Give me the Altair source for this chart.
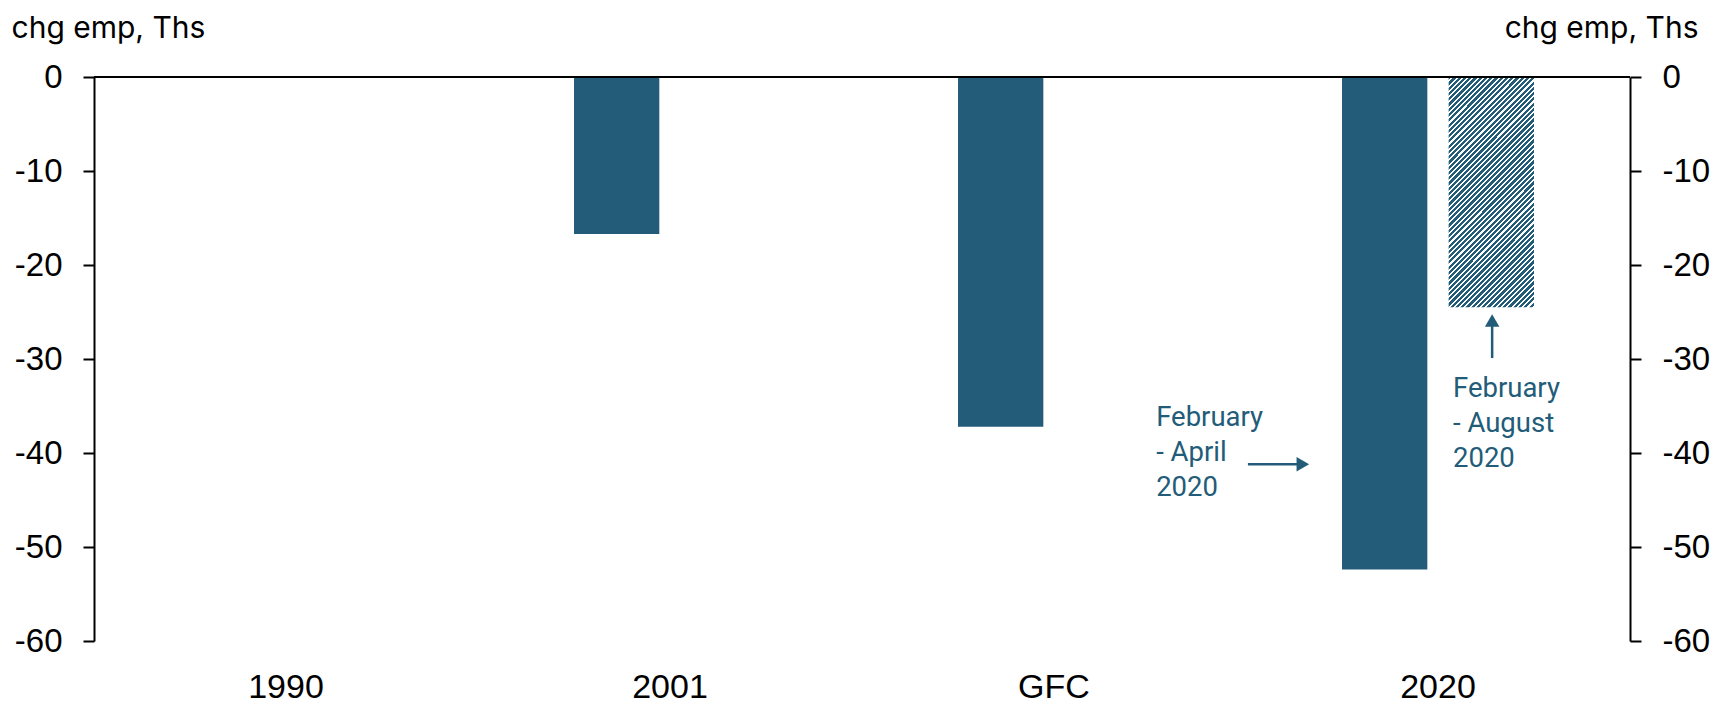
import altair as alt
import pandas as pd

# ---------------- data ----------------
categories = ["1990", "2001", "GFC", "2020"]
series = ["Trough", "Latest"]

bar_cats = ["2001", "GFC", "2020", "2020"]
bar_series = ["Trough", "Trough", "Trough", "Latest"]
bar_values = [-16.7, -37.2, -52.4, -24.5]

y_ticks = [0, -10, -20, -30, -40, -50, -60]

ann_texts = ["February\n- April\n2020", "February\n- August\n2020"]
ann_x = [2.766, 3.539]
ann_y = [-37.1, -34.0]

arrow_x = [3.005, 3.641]
arrow_x2 = [3.135, 3.641]
arrow_y = [-41.2, -29.9]
arrow_y2 = [-41.2, -26.3]

head_x = [3.148, 3.641]
head_y = [-41.2, -25.9]
head_shape = ["triangle-right", "triangle-up"]

TEAL = "#225C78"

# hatch fill built as a striped linear gradient ("////" at 45 degrees)
N = 60
frac = 0.6
stops = []
for k in range(N):
    a = round(k / N, 5)
    b = round((k + frac) / N, 5)
    c = round((k + 1) / N, 5)
    stops += [
        {"offset": a, "color": TEAL},
        {"offset": b, "color": TEAL},
        {"offset": b, "color": "#ffffff"},
        {"offset": c, "color": "#ffffff"},
    ]
hatch = {"gradient": "linear", "x1": 0, "y1": 0, "x2": 0.447, "y2": 1.205, "stops": stops}

bars_df = pd.DataFrame({"cat": bar_cats, "series": bar_series, "value": bar_values})
ann_df = pd.DataFrame({"x": ann_x, "y": ann_y, "t": ann_texts})
arrow_df = pd.DataFrame({"x": arrow_x, "x2": arrow_x2, "y": arrow_y, "y2": arrow_y2})
head_df = pd.DataFrame({"x": head_x, "y": head_y, "shape": head_shape})
zero_df = pd.DataFrame({"x": [0], "x2": [4], "y": [0]})

W, H = 1536, 564

yscale = alt.Scale(domain=[-60, 0], nice=False, zero=False)
xq = alt.Scale(domain=[0, 4], nice=False, zero=False)

axis_common = dict(
    values=y_ticks,
    labelExpr="'' + datum.value",
    labelFont="Liberation Sans",
    labelFontSize=33,
    labelColor="#000000",
    domainColor="#000000",
    domainWidth=2,
    tickColor="#000000",
    tickWidth=2,
    tickSize=11,
    labelPadding=21,
    grid=False,
    titleFont="Inter",
    titleFontSize=30,
    titleFontWeight="normal",
    titleColor="#000000",
    titleAngle=0,
    titleBaseline="alphabetic",
    titleY=-40,
)

left_axis = alt.Axis(orient="left", title="chg emp, Ths", titleAlign="left", titleX=-83, **axis_common)
right_axis = alt.Axis(orient="right", title="chg emp, Ths", titleAlign="right", titleX=68, **axis_common)

bars = alt.Chart(bars_df).mark_bar().encode(
    x=alt.X(
        "cat:N",
        scale=alt.Scale(domain=categories, paddingInner=0.5, paddingOuter=0.25),
        sort=categories,
        axis=alt.Axis(
            title=None,
            domain=False,
            ticks=False,
            tickSize=0,
            labelAngle=0,
            labelFont="Liberation Sans",
            labelFontSize=34,
            labelColor="#000000",
            labelBaseline="alphabetic",
            labelPadding=56,
        ),
    ),
    xOffset=alt.XOffset("series:N", scale=alt.Scale(domain=series, paddingInner=0.2, paddingOuter=0)),
    y=alt.Y("value:Q", scale=yscale, axis=left_axis),
    fill=alt.condition(alt.datum.series == "Latest", alt.value(hatch), alt.value(TEAL)),
)

zero_rule = alt.Chart(zero_df).mark_rule(color="#000000", strokeWidth=2).encode(
    x=alt.X("x:Q", scale=xq, axis=None),
    x2="x2:Q",
    y=alt.Y("y:Q", scale=yscale, axis=None),
)

arrows = alt.Chart(arrow_df).mark_rule(color=TEAL, strokeWidth=2.5).encode(
    x=alt.X("x:Q", scale=xq, axis=None),
    x2="x2:Q",
    y=alt.Y("y:Q", scale=yscale, axis=None),
    y2="y2:Q",
)

heads = alt.Chart(head_df).mark_point(filled=True, opacity=1, color=TEAL, size=210, strokeWidth=0).encode(
    x=alt.X("x:Q", scale=xq, axis=None),
    y=alt.Y("y:Q", scale=yscale, axis=None),
    shape=alt.Shape("shape:N", scale=None),
)

texts = alt.Chart(ann_df).mark_text(
    align="left", baseline="alphabetic", font="Roboto", fontSize=27.5, color=TEAL,
    lineBreak="\n", lineHeight=35,
).encode(
    x=alt.X("x:Q", scale=xq, axis=None),
    y=alt.Y("y:Q", scale=yscale, axis=right_axis),
    text="t:N",
)

chart = (
    alt.layer(bars, zero_rule, arrows, heads, texts)
    .resolve_scale(x="independent")
    .resolve_axis(y="independent", x="independent")
    .properties(
        width=W,
        height=H,
        autosize=alt.AutoSizeParams(type="none"),
        padding={"left": 86, "top": 69, "right": 94, "bottom": 64},
        background="#ffffff",
    )
    .configure_view(stroke=None)
)

chart.save("out.html", embed_options={"renderer": "svg", "actions": False})
